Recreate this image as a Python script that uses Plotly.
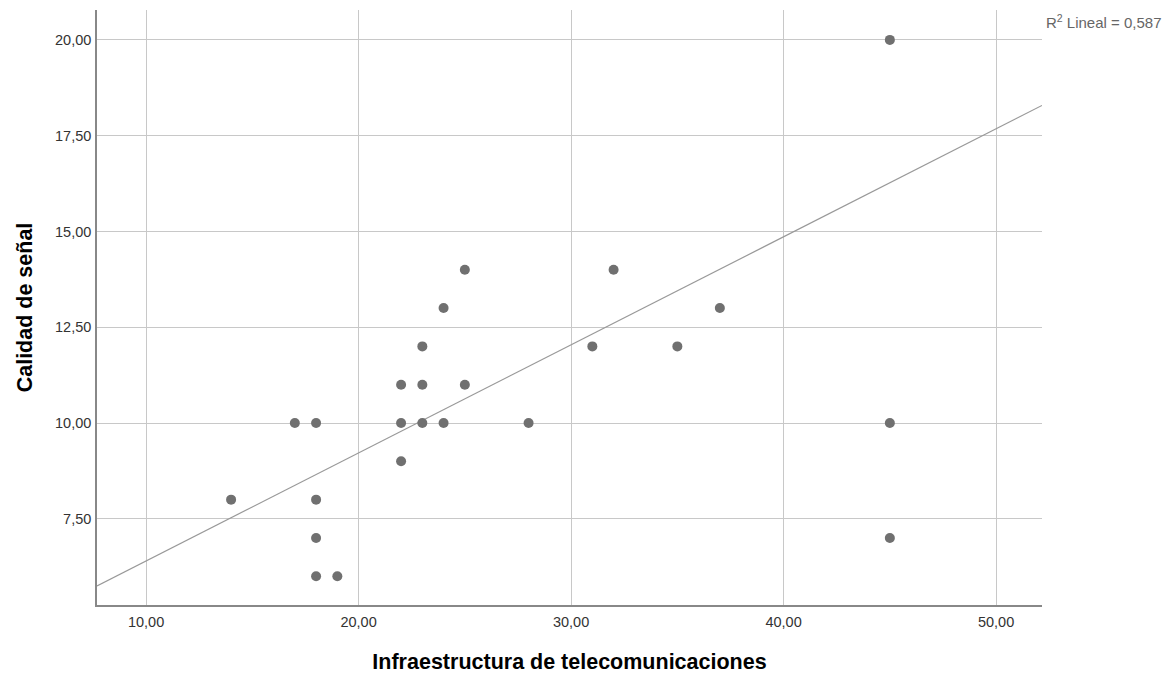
import plotly.graph_objects as go
import numpy as np

infra = [14, 17, 18, 18, 18, 18, 19, 22, 22, 22, 23, 23, 23, 24, 24, 25, 25, 28, 31, 32, 35, 37, 45, 45, 45]
calidad = [8, 10, 10, 8, 7, 6, 6, 11, 10, 9, 12, 11, 10, 13, 10, 14, 11, 10, 12, 14, 12, 13, 20, 10, 7]
fit_intercept = 3.58
fit_slope = 0.282
r2_text = "R<sup>2</sup> Lineal = 0,587"

x_range = [7.69, 52.16]
y_range = [5.25, 20.78]

fig = go.Figure()
xs = np.array(x_range)
fig.add_trace(go.Scatter(x=xs, y=fit_intercept + fit_slope * xs, mode="lines",
                         line=dict(color="#999999", width=1.2), hoverinfo="skip", showlegend=False))
fig.add_trace(go.Scatter(x=infra, y=calidad, mode="markers",
                         marker=dict(color="#707070", size=10, line=dict(width=0)), showlegend=False))

fig.update_layout(
    width=1169, height=677,
    margin=dict(l=97, r=127, t=10, b=72),
    plot_bgcolor="white", paper_bgcolor="white",
    separators=",.",
    font=dict(family="Liberation Sans, Arial", color="#333333", size=14),
    xaxis=dict(range=x_range, tickvals=[10, 20, 30, 40, 50], tickformat=".2f",
               showgrid=True, gridcolor="#c8c8c8", gridwidth=1.3, zeroline=False,
               showline=True, linecolor="#888888", linewidth=1.5, ticks="", ticklen=0,
               ticklabelstandoff=3, tickfont=dict(size=14.5),
               title=dict(text="<b>Infraestructura de telecomunicaciones</b>", font=dict(size=21.5, color="#000000"), standoff=25),
               automargin=False),
    yaxis=dict(range=y_range, tickvals=[7.5, 10, 12.5, 15, 17.5, 20], tickformat=".2f",
               showgrid=True, gridcolor="#c8c8c8", gridwidth=1.3, zeroline=False,
               showline=True, linecolor="#888888", linewidth=1.5, ticks="", ticklen=0,
               ticklabelstandoff=1, tickfont=dict(size=14.5),
               title=dict(text="<b>Calidad de señal</b>", font=dict(size=21.5, color="#000000"), standoff=17),
               automargin=False),
)
fig.add_annotation(x=1.002, y=1.0, xref="paper", yref="paper", xanchor="left", yanchor="top",
                   text=r2_text, showarrow=False, font=dict(size=15, color="#666666"))
fig.write_html("out.html")
